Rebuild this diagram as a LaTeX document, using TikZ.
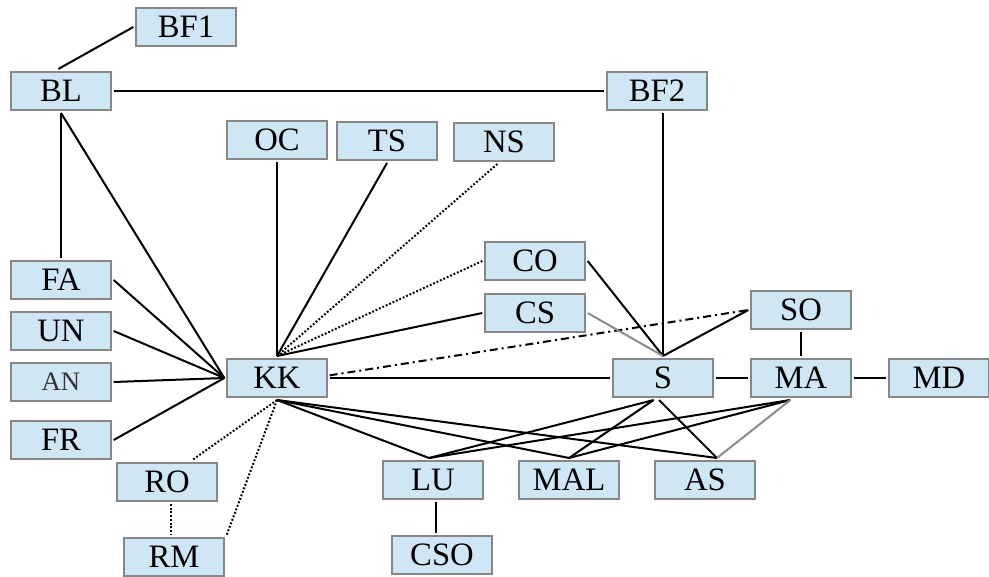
\documentclass[tikz,border=0pt]{standalone}
\usepackage{fontspec}
\setmainfont{Liberation Serif}
\usepackage{tikz}
\usetikzlibrary{positioning}
\definecolor{boxfill}{RGB}{207,230,244}
\definecolor{boxdraw}{RGB}{135,135,135}
\definecolor{linkgray}{RGB}{140,140,140}
\tikzset{
  box/.style={rectangle, draw=boxdraw, fill=boxfill,
    minimum width=75pt, minimum height=29pt, inner sep=0pt,
    outer sep=2pt, line width=1.5pt, font=\fontsize{24.5}{27}\selectfont},
  faintbox/.style={box, text=black!80, font=\fontsize{20}{23}\selectfont},
  link/.style={line width=1.5pt, color=black},
  graylink/.style={line width=1.5pt, color=linkgray},
  dotlink/.style={line width=1.5pt, color=black, dash pattern=on 1.4pt off 1.4pt},
  dashdotlink/.style={line width=1.5pt, color=black, dash pattern=on 6pt off 3pt on 1.5pt off 3pt}
}

\begin{document}
\begin{tikzpicture}[x=0.75pt, y=-0.75pt]
  \useasboundingbox (0,0) rectangle (989,577);
  % boxes
  \node[box] (BF1) at (186,27) {BF1};
  \node[box] (BL) at (61,91) {BL};
  \node[box] (BF2) at (657,91) {BF2};
  \node[box] (OC) at (277,140) {OC};
  \node[box] (TS) at (387,141) {TS};
  \node[box] (NS) at (504,142) {NS};
  \node[box] (CO) at (535,261) {CO};
  \node[box] (CS) at (535,313) {CS};
  \node[box] (SO) at (801,310) {SO};
  \node[box] (FA) at (61,280) {FA};
  \node[box] (UN) at (61,331) {UN};
  \node[faintbox] (AN) at (61,382) {AN};
  \node[box] (FR) at (61,440) {FR};
  \node[box] (KK) at (277,378) {KK};
  \node[box] (S) at (663,378) {S};
  \node[box] (MA) at (801,378) {MA};
  \node[box] (MD) at (939,378) {MD};
  \node[box] (RO) at (167,482) {RO};
  \node[box] (RM) at (174,557) {RM};
  \node[box] (LU) at (433,480) {LU};
  \node[box] (MAL) at (569,480) {MAL};
  \node[box] (AS) at (705,480) {AS};
  \node[box] (CSO) at (442,555) {CSO};
  % top links
  \draw[link] (BF1.west) -- ([xshift=-2pt]BL.north);
  \draw[link] (BL.east) -- (BF2.west);
  \draw[link] (BL.south) -- (FA.north);
  \draw[link] (BL.south) -- (KK.west);
  \draw[link] (BF2.south -| S.north) -- (S.north);
  % into KK
  \draw[link] (FA.east) -- (KK.west);
  \draw[link] (UN.east) -- (KK.west);
  \draw[link] (AN.east) -- (KK.west);
  \draw[link] (FR.east) -- (KK.west);
  \draw[link] (OC.south) -- (KK.north);
  \draw[link] (TS.south) -- (KK.north);
  \draw[dotlink] ([xshift=-5pt]NS.south) -- (KK.north);
  \draw[dotlink] (CO.west) -- (KK.north);
  \draw[link] (CS.west) -- (KK.north);
  \draw[dashdotlink] ([yshift=2pt]KK.east) -- (SO.west);
  \draw[link] (KK.east) -- (S.west);
  % into S
  \draw[link] (CO.east) -- (S.north);
  \draw[graylink] (CS.east) -- (S.north);
  \draw[link] (SO.west) -- (S.north);
  \draw[link] (S.east) -- (MA.west);
  \draw[link] (SO.south) -- (MA.north);
  \draw[link] (MA.east) -- (MD.west);
  % lower fan
  \draw[link] (KK.south) -- ([xshift=-3pt]LU.north);
  \draw[link] (KK.south) -- (MAL.north);
  \draw[link] (KK.south) -- ([xshift=9pt]AS.north);
  \draw[link] ([xshift=-7pt]S.south) -- ([xshift=-3pt]LU.north);
  \draw[link] ([xshift=-7pt]S.south) -- (MAL.north);
  \draw[link] ([xshift=-3pt]S.south) -- ([xshift=9pt]AS.north);
  \draw[link] ([xshift=-8pt]MA.south) -- ([xshift=-3pt]LU.north);
  \draw[link] ([xshift=-8pt]MA.south) -- (MAL.north);
  \draw[graylink] ([xshift=-8pt]MA.south) -- ([xshift=9pt]AS.north);
  \draw[link] ([xshift=2pt]LU.south) -- ([xshift=2pt]LU.south |- CSO.north);
  % dotted to RO and RM
  \draw[dotlink] (KK.south) -- ([xshift=19pt]RO.north);
  \draw[dotlink] (KK.south) -- (RM.north east);
  \draw[dotlink] ([xshift=3pt]RO.south) -- ([xshift=3pt]RO.south |- RM.north);
\end{tikzpicture}
\end{document}
